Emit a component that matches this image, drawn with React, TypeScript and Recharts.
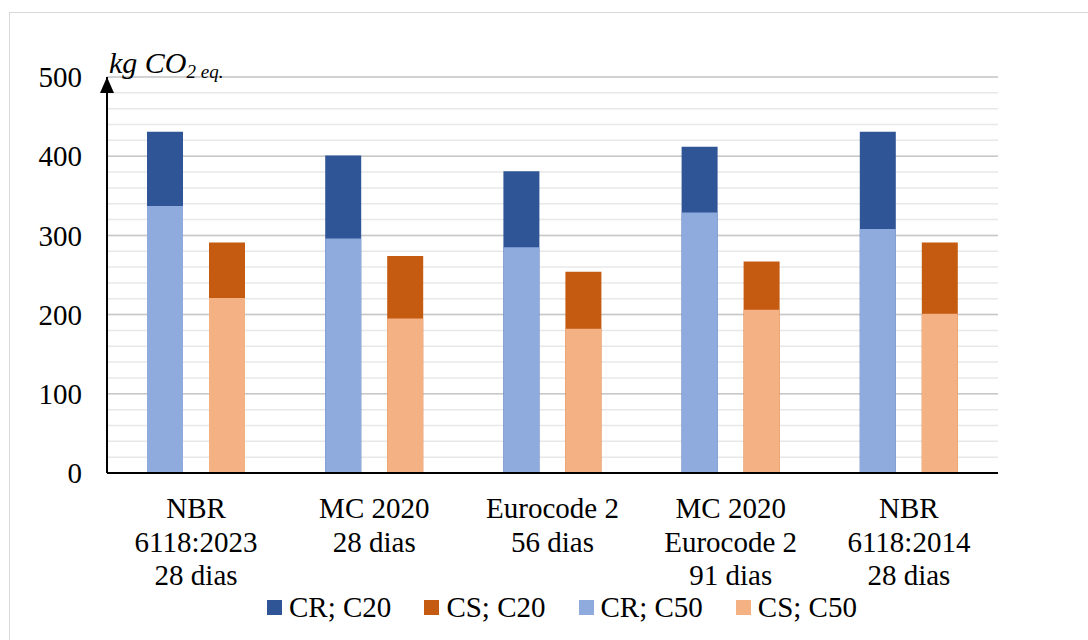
import { Bar, BarChart, CartesianGrid, Legend, XAxis, YAxis } from 'recharts'

const categories = [
  'NBR\n6118:2023\n28 dias',
  'MC 2020\n28 dias',
  'Eurocode 2\n56 dias',
  'MC 2020\nEurocode 2\n91 dias',
  'NBR\n6118:2014\n28 dias',
]

// totals (C20 bar is the full height, C50 drawn in front)
const crC20 = [431, 401, 381, 412, 431]
const csC20 = [291, 274, 254, 267, 291]
const crC50 = [337, 296, 285, 329, 308]
const csC50 = [221, 195, 182, 206, 201]

const seriesNames = ['CR; C20', 'CS; C20', 'CR; C50', 'CS; C50']

const yTicks = [0, 100, 200, 300, 400, 500]
const minorTicks = [
  0, 20, 40, 60, 80, 100, 120, 140, 160, 180, 200, 220, 240, 260, 280, 300,
  320, 340, 360, 380, 400, 420, 440, 460, 480, 500,
]
const Y_MAX = 500

const data = categories.map((name, i) => ({
  name,
  crC20: crC20[i],
  csC20: csC20[i],
  crC50: crC50[i],
  csC50: csC50[i],
}))

const FONT = '"Liberation Serif", "Times New Roman", serif'

function CategoryTick(props: any) {
  const { x, y, payload } = props
  const lines = String(payload.value).split('\n')
  return (
    <text x={x} y={y} textAnchor="middle" fontFamily={FONT} fontSize={29} fill="#000">
      {lines.map((line, i) => (
        <tspan key={i} x={x} dy={i === 0 ? 45 : 33.5}>
          {line}
        </tspan>
      ))}
    </text>
  )
}

function AxisTitle(props: any) {
  const { x, y, width } = props.viewBox
  const ax = x + width
  return (
    <g>
      <polygon points={`${ax},${y} ${ax - 7},${y + 16} ${ax + 7},${y + 16}`} fill="#000" />
      <text x={ax + 2} y={y - 4} fontFamily={FONT} fontStyle="italic" fontSize={30} fill="#000">
        kg CO
        <tspan fontSize={19} dy={5}>
          2 eq.
        </tspan>
      </text>
    </g>
  )
}

function LegendContent(props: any) {
  const items = [...(props.payload || [])].sort(
    (a: any, b: any) => seriesNames.indexOf(a.value) - seriesNames.indexOf(b.value),
  )
  return (
    <div
      style={{
        display: 'flex',
        justifyContent: 'center',
        paddingLeft: 126,
        gap: 33,
        fontFamily: FONT,
        fontSize: 29,
        color: '#000',
        lineHeight: '34px',
      }}
    >
      {items.map((p: any) => (
        <div key={p.value} style={{ display: 'flex', alignItems: 'center' }}>
          <span style={{ width: 15, height: 15, background: p.color, marginRight: 7 }} />
          {p.value}
        </div>
      ))}
    </div>
  )
}

// minor gridlines every 20 units, mapped through the y scale
const minorLines = (args: any) => {
  const { yAxis, offset } = args
  if (yAxis && typeof yAxis.scale === 'function') {
    return minorTicks.map((t) => yAxis.scale(t))
  }
  return minorTicks.map((t) => offset.top + offset.height * (1 - t / Y_MAX))
}

export default function App() {
  return (
    <div style={{ position: 'fixed', top: 0, left: 0, width: 1088, height: 640, overflow: 'hidden', background: '#fff' }}>
      <div
        style={{
          position: 'absolute',
          left: 9,
          top: 12,
          width: 1200,
          height: 700,
          borderLeft: '1px solid #d9d9d9',
          borderTop: '1px solid #d9d9d9',
        }}
      />
      <div style={{ position: 'absolute', left: 0, top: 0 }}>
        <BarChart
          width={1088}
          height={640}
          data={data}
          barGap={26}
          margin={{ top: 77, right: 90, left: 0, bottom: 16 }}
        >
          <CartesianGrid
            xAxisId="c20"
            yAxisId="main"
            vertical={false}
            stroke="#e8e8e8"
            strokeWidth={1.5}
            horizontalCoordinatesGenerator={minorLines}
          />
          <CartesianGrid xAxisId="c20" yAxisId="main" vertical={false} stroke="#c8c8c8" strokeWidth={1.5} />
          <XAxis
            xAxisId="c20"
            dataKey="name"
            interval={0}
            height={117}
            tickLine={false}
            tickSize={0}
            tickMargin={0}
            axisLine={{ stroke: '#000', strokeWidth: 2 }}
            tick={<CategoryTick />}
          />
          <XAxis xAxisId="c50" dataKey="name" hide />
          <YAxis
            yAxisId="main"
            domain={[0, Y_MAX]}
            ticks={yTicks}
            width={107}
            tickLine={false}
            tickSize={0}
            tickMargin={25}
            axisLine={{ stroke: '#000', strokeWidth: 2 }}
            tick={{ fill: '#000', fontSize: 29, fontFamily: FONT }}
            label={{ content: <AxisTitle /> }}
          />
          <Legend verticalAlign="bottom" content={<LegendContent />} />
          <Bar xAxisId="c20" yAxisId="main" dataKey="crC20" name="CR; C20" fill="#2F5597" barSize={36} isAnimationActive={false} />
          <Bar xAxisId="c20" yAxisId="main" dataKey="csC20" name="CS; C20" fill="#C55A11" barSize={36} isAnimationActive={false} />
          <Bar xAxisId="c50" yAxisId="main" dataKey="crC50" name="CR; C50" fill="#8FAADC" barSize={36} isAnimationActive={false} />
          <Bar xAxisId="c50" yAxisId="main" dataKey="csC50" name="CS; C50" fill="#F4B183" barSize={36} isAnimationActive={false} />
        </BarChart>
      </div>
    </div>
  )
}
